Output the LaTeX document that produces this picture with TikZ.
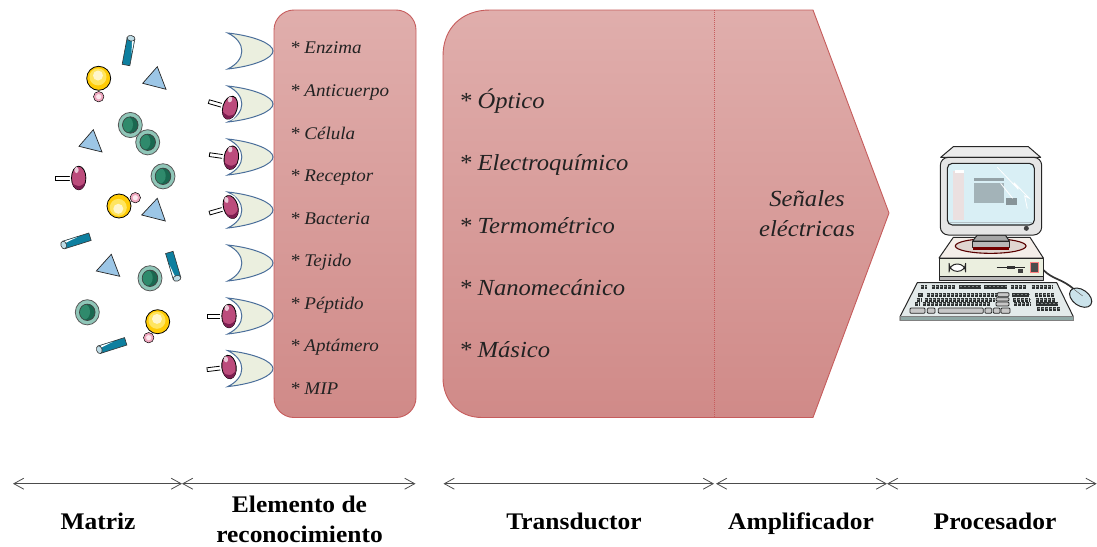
\documentclass[tikz,border=0pt]{standalone}
\usepackage{fontspec}
\setmainfont[FakeStretch=1.07]{Liberation Serif}
\usetikzlibrary{arrows.meta}
\definecolor{panelTop}{HTML}{E0AEAC}
\definecolor{panelBot}{HTML}{D08A88}
\definecolor{panelEdge}{HTML}{C65C5C}
\definecolor{shellFill}{HTML}{EBEFDF}
\definecolor{shellEdge}{HTML}{4A6E9A}
\definecolor{pinFill}{HTML}{BC4C7C}
\definecolor{pinDark}{HTML}{7C1E50}
\definecolor{triFill}{HTML}{9CC6E6}
\definecolor{cylFill}{HTML}{0E7F9F}
\definecolor{capFill}{HTML}{BEDCE6}
\definecolor{ringFill}{HTML}{8FC6B8}
\definecolor{coreFill}{HTML}{1A6850}
\definecolor{coreLite}{HTML}{2F8A6C}
\definecolor{ballFill}{HTML}{FFCB05}
\definecolor{ballMid}{HTML}{FFE560}
\definecolor{ballLite}{HTML}{FFF6CC}
\definecolor{beadFill}{HTML}{EFA6BE}
\definecolor{inkGray}{HTML}{222222}
\definecolor{keyDark}{HTML}{2E3232}
\definecolor{keyLite}{HTML}{7E8484}
\definecolor{caseTop}{HTML}{F4EEE9}
\definecolor{caseDish}{HTML}{E0D5D0}
\definecolor{boardFill}{HTML}{E3EAEA}
\definecolor{boardEdge}{HTML}{8FA8A5}
\definecolor{screenFill}{HTML}{D9EFF5}
\tikzset{
  smalltext/.style={anchor=base west,inner sep=0pt,text=inkGray,font=\fontsize{17.8}{20}\selectfont\itshape},
  bigtext/.style={anchor=base west,inner sep=0pt,text=inkGray,font=\fontsize{23}{28}\selectfont\itshape},
  caption/.style={anchor=base,inner sep=0pt,text=black,font=\fontsize{23.8}{30}\selectfont\bfseries},
  span/.style={draw=black!70,line width=0.8pt,{Straight Barb[length=10pt,width=11pt]}-{Straight Barb[length=10pt,width=11pt]}},
  panel/.style={draw=panelEdge,line width=0.9pt,top color=panelTop,bottom color=panelBot},
  hw/.style={draw=black!85,line width=1pt,line join=round},
  fullkey/.style={draw=black!85,fill=black!22,line width=0.8pt,rounded corners=1pt}
}
% Antibody-like shell opening to the left, with its nose at (273,#1)
\newcommand{\shellpart}[1]{%
  \draw[draw=shellEdge,fill=shellFill,line width=1pt,line join=miter]
    (227.7,#1-18) .. controls (255,#1-15) and (273,#1-7) .. (273,#1)
    .. controls (273,#1+7) and (255,#1+15) .. (227.7,#1+18)
    .. controls (246.5,#1+9) and (246.5,#1-9) .. cycle;}
% Pin-shaped analyte: x, y of the head, tilt, stem length
\newcommand{\pinpart}[4]{%
  \begin{scope}[shift={(#1,#2)},rotate=#3]
    \draw[draw=black,fill=white,line width=0.8pt] (-#4,-1.9) rectangle (-5,1.9);
    \fill[white] (0,0) ellipse [x radius=9,y radius=13.5];
    \draw[draw=black,fill=pinFill,line width=0.8pt] (0,0) ellipse [x radius=7.2,y radius=11.8];
    \begin{scope}
      \clip (0,0) ellipse [x radius=7.2,y radius=11.8];
      \fill[pinDark] (-8,3) .. controls (-3,10) and (3,10) .. (8,2) -- (8,13) -- (-8,13) -- cycle;
      \fill[white!70!pinFill] (-2.2,-8) ellipse [x radius=2.2,y radius=3];
    \end{scope}
  \end{scope}}
\newcommand{\tripart}[6]{%
  \draw[draw=black!85,fill=triFill,line width=0.7pt,line join=miter] (#1,#2) -- (#3,#4) -- (#5,#6) -- cycle;}
% Yellow sphere: centre, offset of its highlight, bead centre
\newcommand{\ballpart}[5]{%
  \draw[draw=black,fill=beadFill,line width=0.5pt] (#4,#5) circle [radius=5.2];
  \fill[white!75!beadFill] (#4,#5) circle [radius=2.6];
  \draw[draw=black,fill=ballFill,line width=0.8pt] (#1,#2) circle [radius=12];
  \fill[ballMid] (#1-0.7,#2+#3*0.35) circle [radius=8.5];
  \fill[ballLite] (#1-0.7,#2+#3*0.7) circle [radius=5];}
\newcommand{\discpart}[2]{%
  \draw[draw=black!65,fill=ringFill,line width=0.8pt] (#1,#2) ellipse [x radius=12,y radius=12.6];
  \draw[draw=black!75,fill=coreFill,line width=0.7pt] (#1,#2) ellipse [x radius=7.8,y radius=8.2];
  \begin{scope}
    \clip (#1,#2) ellipse [x radius=7.3,y radius=7.7];
    \fill[coreLite] (#1-2.8,#2-0.5) ellipse [x radius=5.5,y radius=7.6];
  \end{scope}}
% Tube drawn from its open cap along the local x axis
\newcommand{\tubepart}[4]{%
  \begin{scope}[shift={(#1,#2)},rotate=#3]
    \draw[draw=black!80,fill=cylFill,line width=0.6pt] (0,-3.9) -- (#4,-3.9) -- (#4,3.9) -- (0,3.9) -- cycle;
    \fill[white] (1,-3.4) -- (#4*0.55,-3.4) -- (1,-1.2) -- cycle;
    \draw[draw=black!80,fill=capFill,line width=0.6pt] (0,0) ellipse [x radius=2.8,y radius=4];
  \end{scope}}
% One row of keyboard keys with their lit top edges
\newcommand{\keys}[3]{%
  \draw[draw=keyDark,line width=4.1pt,dash pattern=on 3.4pt off 0.6pt] (#1,#3) -- (#2,#3);
  \draw[draw=keyLite,line width=1.3pt,dash pattern=on 2.2pt off 1.8pt,dash phase=-0.5pt] (#1,#3-1.5) -- (#2,#3-1.5);}
\begin{document}
\begin{tikzpicture}[x=1pt,y=-1pt]
\useasboundingbox (0,0) rectangle (1097,546);

% Recognition element panel and transducer/amplifier block
\path[panel,rounded corners=20pt] (274,10) rectangle (416,417.5);
\path[panel] (490,10) -- (813,10) -- (889,213) -- (813,417.5) -- (482,417.5)
  .. controls (458,417.5) and (443,400) .. (443,378) -- (443,56)
  .. controls (443,28) and (462,10) .. (490,10) -- cycle;
\coordinate (splitTop) at (714,10);
\coordinate (splitBot) at (714,417.5);
\draw[draw=panelEdge,line width=0.9pt,dash pattern=on 1.2pt off 0.8pt] (splitTop) -- (splitBot);

% Shells
\foreach \ry in {51,104,157,210,263,316,368.6} {\shellpart{\ry}}

% Bound and free pins
\pinpart{230}{107.7}{-16}{22}
\pinpart{231.3}{157.7}{-8}{22}
\pinpart{230.7}{207}{16}{22}
\pinpart{229}{316}{0}{22}
\pinpart{229}{367}{7}{22}
\begin{scope}
\pinpart{78.7}{178}{0}{23}
\end{scope}

% Analytes in the matrix
\tripart{157.3}{66.7}{142.7}{83.3}{166}{89.3}
\tripart{93.3}{129.7}{79}{146.3}{102}{152}
\tripart{157.3}{198.3}{141.7}{215}{165.3}{221}
\tripart{111.3}{254.3}{96.3}{271}{119.7}{276.3}
\ballpart{98.7}{78.3}{-4}{98.7}{96.7}
\ballpart{119}{206}{4}{135.3}{197.7}
\ballpart{157.7}{321.7}{-4}{148.7}{337.7}
\discpart{130.3}{125}
\discpart{147.7}{142.3}
\discpart{163}{176.3}
\discpart{150}{278.3}
\discpart{87.3}{312.3}
\tubepart{131}{38.3}{-100.6}{27.2}
\tubepart{63.7}{245}{17.5}{27.6}
\tubepart{177}{278.3}{106.5}{27}
\tubepart{99.3}{349.7}{17.6}{27.7}

% Desktop computer
\begin{scope}[shift={(890,130)},scale=1/3]
  % mouse cable and mouse
  \draw[draw=black!80,line width=1.7pt] (460,420) .. controls (490,450) and (515,445) .. (552,478);
  \draw[hw,fill=capFill!80!white,rotate around={-35:(572,503)}] (572,503) ellipse [x radius=37,y radius=24];
  \draw[draw=black!60,line width=0.5pt] (552,478) -- (578,498);
  % system unit
  \draw[hw,fill=caseTop] (190,322) -- (420,322) -- (460,384) -- (147,384) -- cycle;
  \draw[draw=red!35!black,fill=caseDish,line width=1.1pt] (302,348) ellipse [x radius=106,y radius=22];
  \draw[hw,fill=shellFill] (147,384) -- (460,384) -- (460,440) -- (147,440) -- cycle;
  \draw[hw,fill=black!28] (147,440) -- (460,440) -- (460,452) -- (147,452) -- cycle;
  \draw[hw,fill=white,rounded corners=8pt] (177,402) rectangle (227,424);
  \draw[draw=black!85,line width=1.1pt] (320,413) -- (405,413);
  \fill[black!80] (352,409) rectangle (375,416);
  \fill[black!75] (385,418) rectangle (400,428);
  \draw[draw=red!50,fill=black!70,line width=0.8pt] (422,398) rectangle (444,427);
  % monitor stand
  \draw[hw,fill=black!35] (262,315) -- (346,315) -- (358,333) -- (248,333) -- cycle;
  \draw[hw,fill=black!28] (248,333) rectangle (358,352);
  \fill[red!45!black] (248,352) rectangle (358,359);
  % monitor
  \draw[hw,fill=white!92!black] (190,50) -- (415,50) -- (452,82) -- (152,82) -- cycle;
  \draw[hw,fill=white!90!black,rounded corners=8pt] (151,82) rectangle (455,315);
  \draw[draw=black!85,line width=1.1pt,fill=screenFill,rounded corners=5pt] (172,100) rectangle (433,285);
  \draw[draw=cyan!30!black!35,line width=0.8pt] (177,278) -- (428,278);
  \fill[red!35!black!12!white] (189,122) rectangle (222,270);
  \fill[white] (196,120) rectangle (222,129);
  \fill[black!32!screenFill] (252,143) rectangle (342,153);
  \fill[black!25!screenFill] (252,160) rectangle (342,218);
  \fill[black!38!screenFill] (348,204) rectangle (381,225);
  \draw[draw=white,line width=0.8pt] (322,112) -- (385,178) -- (372,158) -- (418,205) -- (404,198) -- (412,236);
  \draw[draw=white,line width=0.8pt] (332,160) -- (368,205);
  \fill[black!75] (409,295) circle [radius=7.5];
  % keyboard
  \draw[hw,fill=boardFill] (82,458) -- (500,458) -- (550,560) -- (550,571) -- (30,571) -- (30,560) -- cycle;
  \draw[draw=black!50,fill=boardEdge,line width=0.5pt] (30,560) -- (550,560) -- (550,571) -- (30,571) -- cycle;
  \keys{92}{110}{471}
  \keys{125}{195}{471}
  \keys{208}{273}{471}
  \keys{283}{350}{471}
  \keys{362}{410}{471}
  \keys{425}{490}{471}
  \keys{85}{98}{495}
  \keys{110}{320}{495}
  \keys{80}{93}{509}
  \keys{104}{315}{509}
  \keys{75}{88}{522}
  \keys{98}{300}{522}
  \draw[fullkey] (322,488) rectangle (357,500);
  \draw[fullkey] (318,503) rectangle (357,513);
  \draw[fullkey] (318,516) rectangle (357,528);
  \keys{367}{418}{495}
  \keys{369}{420}{509}
  \keys{371}{424}{522}
  \keys{435}{492}{495}
  \keys{437}{497}{509}
  \keys{439}{503}{522}
  \keys{441}{512}{536}
  \draw[fullkey] (60,534) rectangle (105,550);
  \draw[fullkey] (112,534) rectangle (135,550);
  \draw[fullkey] (145,534) rectangle (280,550);
  \draw[fullkey] (285,534) rectangle (305,550);
  \draw[fullkey] (310,534) rectangle (330,550);
  \draw[fullkey] (333,534) rectangle (360,550);
\end{scope}

% Panel labels
\node[smalltext] (t1) at (290,53.3) {* Enzima};
\node[smalltext] (t2) at (290,96) {* Anticuerpo};
\node[smalltext] (t3) at (290,139) {* Célula};
\node[smalltext] (t4) at (290,181.5) {* Receptor};
\node[smalltext] (t5) at (290,224) {* Bacteria};
\node[smalltext] (t6) at (290,266.5) {* Tejido};
\node[smalltext] (t7) at (290,309) {* Péptido};
\node[smalltext] (t8) at (290,351.5) {* Aptámero};
\node[smalltext] (t9) at (290,394) {* MIP};
\node[bigtext] (b1) at (459,108.3) {* Óptico};
\node[bigtext] (b2) at (459,170) {* Electroquímico};
\node[bigtext] (b3) at (459,233) {* Termométrico};
\node[bigtext] (b4) at (459,295.5) {* Nanomecánico};
\node[bigtext] (b5) at (459,357.5) {* Másico};
\node[inner sep=0pt,text=inkGray,align=center,font=\fontsize{23}{30}\selectfont\itshape] (amp) at (807,214) {Señales\\eléctricas};

% Stage spans
\coordinate (p0) at (13,483.7);
\coordinate (p1) at (182,483.7);
\coordinate (p1b) at (182,483.7);
\coordinate (p2) at (415.5,483.7);
\coordinate (p3) at (443.5,483.7);
\coordinate (p4) at (714,483.7);
\coordinate (p4b) at (716,483.7);
\coordinate (p5) at (887,483.7);
\coordinate (p6) at (1096.7,483.7);
\draw[span] (p0) -- (p1);
\draw[span] (p1b) -- (p2);
\draw[span] (p3) -- (p4);
\draw[span] (p4b) -- (p5);
\draw[span] (p5) -- (p6);

% Stage captions
\node[caption] (c1) at (98,529) {Matriz};
\node[caption] (c2a) at (299.5,512.5) {Elemento de};
\node[caption] (c2b) at (299.5,542.5) {reconocimiento};
\node[caption] (c3) at (574,529) {Transductor};
\node[caption] (c4) at (801,529) {Amplificador};
\node[caption] (c5) at (995,529) {Procesador};
\end{tikzpicture}
\end{document}
